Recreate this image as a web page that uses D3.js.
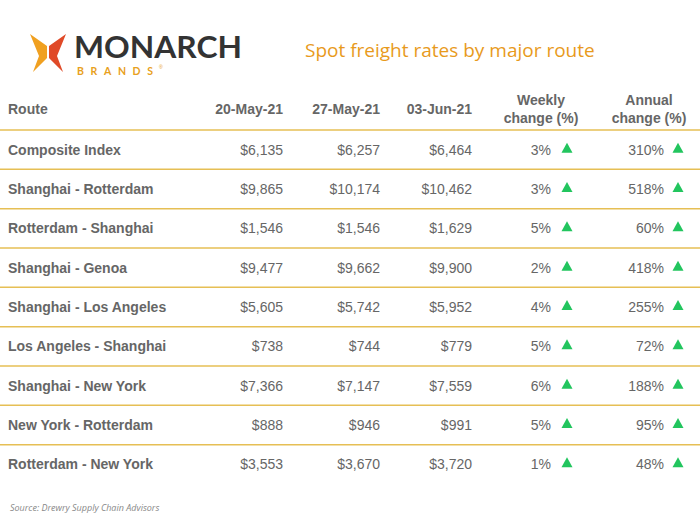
<!DOCTYPE html><html><head><meta charset="utf-8">
<script src="https://cdn.jsdelivr.net/npm/d3@7/dist/d3.min.js"></script>
<style>body{margin:0;background:#fff}</style></head><body>
<script>
const routes=["Composite Index","Shanghai - Rotterdam","Rotterdam - Shanghai","Shanghai - Genoa","Shanghai - Los Angeles","Los Angeles - Shanghai","Shanghai - New York","New York - Rotterdam","Rotterdam - New York"];
const may20=[6135,9865,1546,9477,5605,738,7366,888,3553];
const may27=[6257,10174,1546,9662,5742,744,7147,946,3670];
const jun03=[6464,10462,1629,9900,5952,779,7559,991,3720];
const weekly=[3,3,5,2,4,5,6,5,1];
const annual=[310,518,60,418,255,72,188,95,48];
const dateHeaders=["20-May-21","27-May-21","03-Jun-21"];

const W=700,H=531;
const svg=d3.select("body").append("svg").attr("width",W).attr("height",H).style("font-family","Liberation Sans, Arial, sans-serif");
const g=svg.append("g");
g.append("path").attr("d","M30,34 L47,46 L47,58 L33,72 L39,56 Z").attr("fill","#f0a020");
g.append("path").attr("d","M66,34 L49,46 L49,58 L63,72 L57,56 Z").attr("fill","#e04a28");
g.append("text").attr("x",74).attr("y",58).attr("font-size",31).attr("font-weight","bold").attr("fill","#333").attr("font-family","Lato, sans-serif").attr("textLength",168).attr("lengthAdjust","spacingAndGlyphs").text("MONARCH");
g.append("text").attr("x",77).attr("y",75).attr("font-size",10.5).attr("font-weight","bold").attr("fill","#e8a020").attr("font-family","Lato, sans-serif").attr("textLength",76).text("BRANDS");
g.append("text").attr("x",159).attr("y",69).attr("font-size",5).attr("fill","#e8a020").text("®");
svg.append("text").attr("x",305).attr("y",57).attr("font-size",19).attr("fill","#e89a1c").attr("font-family","Open Sans, sans-serif").text("Spot freight rates by major route");

const y=d3.scaleBand().domain(d3.range(routes.length)).range([130,484]);
const gold="#e6bf55",txt="#666";
const hf={"font-size":14,"font-weight":"bold","fill":txt};
function T(x,yy,s,anchor,attrs){const t=svg.append("text").attr("x",x).attr("y",yy).attr("text-anchor",anchor).text(s);for(const k in attrs)t.attr(k,attrs[k]);return t;}
T(8,114,"Route","start",hf);
const dateX=[283,380,472];
dateHeaders.forEach((d,i)=>T(dateX[i],114,d,"end",hf));
T(541,105,"Weekly","middle",hf);T(541,123,"change (%)","middle",hf);
T(649,105,"Annual","middle",hf);T(649,123,"change (%)","middle",hf);
svg.append("line").attr("x1",0).attr("x2",W).attr("y1",130).attr("y2",130).attr("stroke",gold).attr("stroke-width",1.5);
const fmt=d3.format("$,");
routes.forEach((r,i)=>{
  const cy=y(i)+y.bandwidth()/2+5;
  T(8,cy,r,"start",{"font-size":14,"font-weight":"bold","fill":txt});
  [may20,may27,jun03].forEach((arr,j)=>T(dateX[j],cy,fmt(arr[i]),"end",{"font-size":14,"fill":txt}));
  T(551,cy,weekly[i]+"%","end",{"font-size":14,"fill":txt});
  T(664,cy,annual[i]+"%","end",{"font-size":14,"fill":txt});
  [567,678].forEach(x=>svg.append("path").attr("d",`M${x},${cy-12} L${x+5.5},${cy-2} L${x-5.5},${cy-2} Z`).attr("fill","#22c55e"));
  if(i<routes.length-1)svg.append("line").attr("x1",0).attr("x2",W).attr("y1",y(i)+y.bandwidth()).attr("y2",y(i)+y.bandwidth()).attr("stroke",gold).attr("stroke-width",1.5);
});
svg.append("text").attr("x",10).attr("y",511).attr("font-size",9).attr("font-style","italic").attr("fill","#888").attr("font-family","Open Sans, sans-serif").text("Source: Drewry Supply Chain Advisors");
</script></body></html>
